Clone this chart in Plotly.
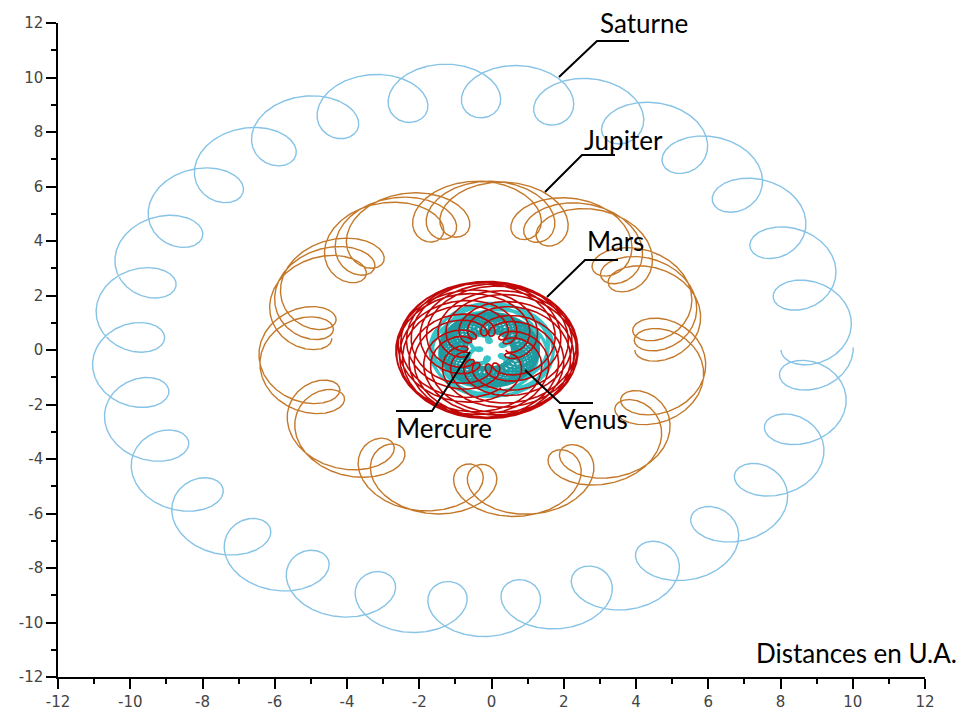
import numpy as np
import plotly.graph_objects as go

# ---- data: orbital elements (heliocentric ellipses, perihelion on +x, all start at perihelion) ----
planets = ["Saturne", "Jupiter", "Venus", "Mercure", "Mars"]
semi_major_au = [9.537, 5.203, 0.723, 0.387, 1.524]
eccentricity = [0.0565, 0.0489, 0.0068, 0.2056, 0.0934]
period_years = [29.457, 11.862, 0.6152, 0.2408, 1.8808]
colors = ["#86c3e6", "#c4782a", "#36c4c8", "#1e9aa0", "#c00808"]
widths = [1.4, 1.4, 2.8, 1.4, 1.6]

earth_a, earth_e, earth_period = 1.0, 0.0167, 1.0
duration_years = 29.5
step_years = 1.0 / 365.25

tick_vals = [-12, -10, -8, -6, -4, -2, 0, 2, 4, 6, 8, 10, 12]
tick_text = ["-12", "-10", "-8", "-6", "-4", "-2", "0", "2", "4", "6", "8", "10", "12"]

# ---- layout geometry (screen pixels; page body has an 8px margin) ----
W, H = 968, 718
BODY = 8
L, T = 58, 23          # plot-area top-left on screen
PW, PH = 867, 654      # plot-area size


def px2x(px):
    return -12 + (px - L) / PW * 24


def py2y(py):
    return 12 - (py - T) / PH * 24


def ellipse_xy(a, e, P, t):
    ang = 2 * np.pi * t / P
    return a * (np.cos(ang) - e), a * np.sqrt(1 - e * e) * np.sin(ang)


t = np.arange(0, duration_years + step_years, step_years)
ex, ey = ellipse_xy(earth_a, earth_e, earth_period, t)

fig = go.Figure()
for name, a, e, P, c, w in zip(planets, semi_major_au, eccentricity, period_years, colors, widths):
    px_, py_ = ellipse_xy(a, e, P, t)
    fig.add_trace(go.Scatter(x=px_ - ex, y=py_ - ey, mode="lines", name=name,
                             line=dict(color=c, width=w), hoverinfo="skip"))

# ---- labels with leader lines ----
labels = [
    ("Saturne", 598, 23, [(629, 41), (597, 41), (559, 77)]),
    ("Jupiter", 582, 140, [(615, 155), (582, 155), (545, 192)]),
    ("Mars", 585, 241, [(618, 260), (585, 260), (547, 297)]),
    ("Mercure", 394, 428, [(396, 411), (432, 411), (470, 352)]),
    ("Venus", 556, 419, [(593, 403), (560, 403), (525, 370)]),
]
shapes = []
annotations = []
for text, lx, ly, pts in labels:
    path = "M " + " L ".join(f"{px2x(p[0]):.4f},{py2y(p[1]):.4f}" for p in pts)
    shapes.append(dict(type="path", path=path, xref="x", yref="y",
                       line=dict(color="black", width=2)))
    annotations.append(dict(text=text, x=px2x(lx), y=py2y(ly), xref="x", yref="y",
                            xanchor="left", yanchor="middle", showarrow=False,
                            font=dict(family="Lato", size=26, color="black")))
annotations.append(dict(text="Distances en U.A.", x=px2x(754), y=py2y(653), xref="x", yref="y",
                        xanchor="left", yanchor="middle", showarrow=False,
                        font=dict(family="Lato", size=26, color="black")))

axis_common = dict(range=[-12, 12], showgrid=False, zeroline=False, showline=True,
                   linecolor="black", linewidth=1.5, ticks="outside", ticklen=10,
                   tickwidth=1.5, tickcolor="black", tickvals=tick_vals, ticktext=tick_text,
                   tickfont=dict(family="DejaVu Sans", size=15, color="#444444"),
                   minor=dict(ticks="outside", ticklen=5, dtick=1, tickwidth=1.5,
                              tickcolor="black", showgrid=False),
                   automargin=False, fixedrange=True)

fig.update_layout(
    width=W, height=H,
    margin=dict(l=L - BODY, r=W - (L - BODY) - PW, t=T - BODY, b=H - (T - BODY) - PH),
    paper_bgcolor="white", plot_bgcolor="white",
    showlegend=False,
    xaxis=dict(**axis_common),
    yaxis=dict(**axis_common),
    shapes=shapes,
    annotations=annotations,
)
fig.write_html("out.html")
